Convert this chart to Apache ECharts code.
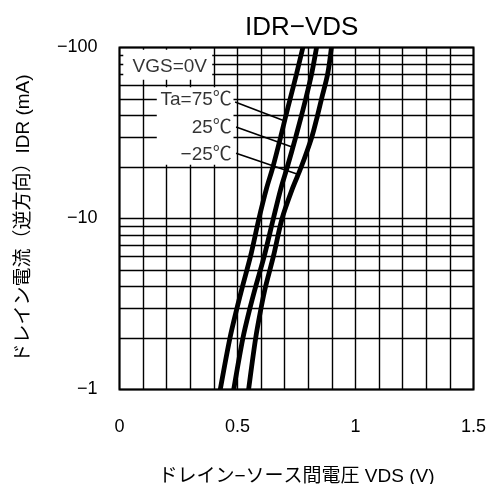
<!DOCTYPE html>
<html>
<head>
<meta charset="utf-8">
<script src="https://cdn.jsdelivr.net/npm/echarts@6/dist/echarts.min.js"></script>
<style>
html,body{margin:0;padding:0;background:#fff;}
#c{width:489px;height:484px;}
</style>
</head>
<body>
<div id="c"></div>
<script>
// ---- data ----
const idrLevels = [-1, -2, -3, -4, -6, -10, -15, -20, -30, -40, -50, -70, -100]; // mA
const vds75  = [0.427, 0.468, 0.498, 0.521, 0.555, 0.591, 0.623, 0.650, 0.683, 0.705, 0.723, 0.750, 0.777];
const vds25  = [0.484, 0.523, 0.553, 0.577, 0.613, 0.652, 0.684, 0.711, 0.747, 0.771, 0.789, 0.814, 0.835];
const vdsM25 = [0.547, 0.577, 0.600, 0.619, 0.652, 0.689, 0.733, 0.770, 0.815, 0.839, 0.856, 0.882, 0.898];
const seriesNames = ['Ta=75℃', '25℃', '−25℃'];
const xTickLabels = ['0', '0.5', '1', '1.5'];
const yTickLabels = ['−1', '−10', '−100'];
const idrMinorGrid = [2, 3, 4, 5, 6, 7, 8, 9, 20, 30, 40, 50, 60, 70, 80, 90];

// annotation anchors (data coordinates: [VDS, |IDR|])
const leaderLines = [
  [[0.490, 48.0], [0.692, 37.6]],
  [[0.494, 34.3], [0.734, 26.1]],
  [[0.494, 24.1], [0.752, 18.2]]
];
const labelAnchors = [[0.476, 49.4], [0.476, 33.8], [0.476, 23.5]];
const vgsAnchor = [0.213, 77.1];
const maskBoxes = [
  [[0.016, 96.9], [0.393, 64.7]],
  [[0.158, 58.5], [0.483, 20.6]]
];

const FONT = "'Liberation Sans', 'Noto Sans CJK JP', sans-serif";

function pts(v) { return v.map((x, i) => [x, Math.abs(idrLevels[i])]); }
const curves = [vds75, vds25, vdsM25];

const chart = echarts.init(document.getElementById('c'), null, {renderer: 'canvas'});

const GRID_W = 1.4;
const series = [];
// minor horizontal grid lines
series.push({
  type: 'line', data: [], z: 1, silent: true,
  markLine: {
    z: 1, silent: true, symbol: 'none', label: {show: false},
    lineStyle: {color: '#000', width: GRID_W, type: 'solid'},
    emphasis: {disabled: true},
    data: idrMinorGrid.map(v => ({yAxis: v}))
  }
});
// white masks behind annotations
series.push({
  type: 'line', data: [[0.2, 1]], z: 3, silent: true, symbol: 'none',
  lineStyle: {opacity: 0},
  markArea: {
    z: 3, silent: true,
    itemStyle: {color: '#fff', opacity: 1},
    data: maskBoxes.map(b => [{coord: b[0]}, {coord: b[1]}])
  }
});
// curves
curves.forEach((c, i) => {
  series.push({
    name: seriesNames[i], type: 'line', data: pts(c), smooth: 0.3,
    showSymbol: false, symbol: 'none', z: 5, silent: true,
    lineStyle: {color: '#000', width: 4.8},
    markLine: {
      z: 5, silent: true, symbol: 'none', label: {show: false},
      lineStyle: {color: '#000', width: 1.6, type: 'solid'},
      data: [[{coord: leaderLines[i][0]}, {coord: leaderLines[i][1]}]]
    }
  });
});
// text labels
series.push({
  type: 'scatter', z: 6, symbolSize: 0, silent: true,
  data: labelAnchors.map((p, i) => ({
    value: p,
    label: {show: true, position: 'left', distance: 0, formatter: seriesNames[i],
      color: '#000', fontSize: 19, fontFamily: FONT}
  })).concat([{
    value: vgsAnchor,
    label: {show: true, position: 'inside', formatter: 'VGS=0V',
      color: '#000', fontSize: 19, fontFamily: FONT}
  }])
});

chart.setOption({
  animation: false,
  backgroundColor: '#fff',
  title: {
    text: 'IDR−VDS', left: 240, top: 10,
    textStyle: {fontSize: 26, fontWeight: 'normal', color: '#000', fontFamily: FONT}
  },
  grid: {left: 119.5, right: 15.5, top: 47.5, bottom: 94.5, show: true,
    outerBoundsMode: 'none', containLabel: false,
    borderColor: '#000', borderWidth: 2, backgroundColor: 'transparent'},
  xAxis: {
    type: 'value', min: 0, max: 1.5, interval: 0.5,
    name: 'ドレイン−ソース間電圧 VDS (V)', nameLocation: 'middle', nameGap: 78,
    nameTextStyle: {fontSize: 19, color: '#000', fontFamily: FONT},
    axisLine: {show: false}, axisTick: {show: false},
    axisLabel: {margin: 29, fontSize: 18, color: '#000', fontFamily: FONT,
      formatter: v => xTickLabels[Math.round(v * 2)]},
    splitLine: {show: true, lineStyle: {color: '#000', width: GRID_W}},
    minorTick: {show: false, splitNumber: 5},
    minorSplitLine: {show: true, lineStyle: {color: '#000', width: GRID_W}}
  },
  yAxis: {
    type: 'log', logBase: 10, min: 1, max: 100,
    name: 'ドレイン電流（逆方向）IDR (mA)', nameLocation: 'middle', nameGap: 86,
    nameTextStyle: {fontSize: 19, color: '#000', fontFamily: FONT},
    axisLine: {show: false}, axisTick: {show: false},
    axisLabel: {margin: 22, fontSize: 18, color: '#000', fontFamily: FONT,
      formatter: v => yTickLabels[Math.round(Math.log10(v))]},
    splitLine: {show: true, lineStyle: {color: '#000', width: GRID_W}}
  },
  series: series
});
</script>
</body>
</html>
